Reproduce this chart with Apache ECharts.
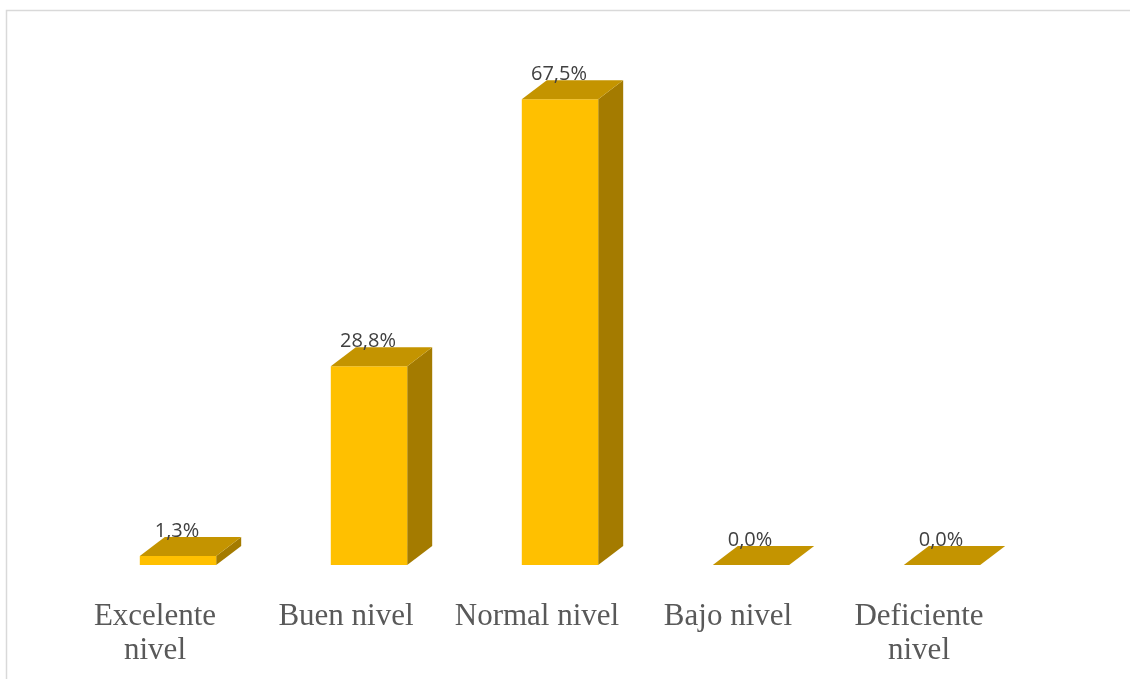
<!DOCTYPE html>
<html>
<head>
<meta charset="utf-8">
<script src="https://cdn.jsdelivr.net/npm/echarts@6/dist/echarts.min.js"></script>
<style>
  html, body { margin: 0; padding: 0; background: #ffffff; }
  #chart { width: 1130px; height: 679px; }
</style>
</head>
<body>
<div id="chart"></div>
<script>
// Nivel alcanzado (porcentaje de participantes)
const categories = ['Excelente\nnivel', 'Buen nivel', 'Normal nivel', 'Bajo nivel', 'Deficiente\nnivel'];
const percentages = [1.3, 28.8, 67.5, 0.0, 0.0];

// 3D box look
const FRONT = '#FFC000';
const TOP = '#C49400';
const SIDE = '#A47B00';
const DEPTH_X = 25;   // horizontal depth of the box
const DEPTH_Y = 19;   // vertical depth of the box
const SHIFT_X = 23;   // boxes sit to the right of the category label centre

function fmt(v) {
  return v.toFixed(1).replace('.', ',') + '%';
}

function renderBox(params, api) {
  const idx = api.value(0);
  const val = api.value(1);
  const base = api.coord([idx, 0]);
  const top = api.coord([idx, val]);
  const w = api.size([1, 0])[0] * 0.4;
  const x0 = base[0] + SHIFT_X - w / 2;
  const x1 = x0 + w;
  const yb = base[1];
  const yt = top[1];
  const children = [];
  if (yb - yt > 0.5) {
    children.push({
      type: 'polygon',
      shape: { points: [[x1, yb], [x1 + DEPTH_X, yb - DEPTH_Y], [x1 + DEPTH_X, yt - DEPTH_Y], [x1, yt]] },
      style: { fill: SIDE }
    });
    children.push({
      type: 'rect',
      shape: { x: x0, y: yt, width: w, height: yb - yt },
      style: { fill: FRONT }
    });
  }
  children.push({
    type: 'polygon',
    shape: { points: [[x0, yt], [x1, yt], [x1 + DEPTH_X, yt - DEPTH_Y], [x0 + DEPTH_X, yt - DEPTH_Y]] },
    style: { fill: TOP }
  });
  children.push({
    type: 'text',
    style: {
      text: fmt(val),
      x: (x0 + x1) / 2 - 1,
      y: yt - DEPTH_Y + 4,
      align: 'center',
      verticalAlign: 'bottom',
      fill: '#404040',
      font: '20px "Open Sans", "Noto Sans", sans-serif'
    }
  });
  return { type: 'group', children: children };
}

const chart = echarts.init(document.getElementById('chart'), null, { renderer: 'canvas' });
chart.setOption({
  animation: false,
  backgroundColor: '#ffffff',
  graphic: [{
    type: 'rect',
    shape: { x: 6.5, y: 10.5, width: 1140, height: 700 },
    style: { fill: 'none', stroke: '#d9d9d9', lineWidth: 1.5 },
    silent: true
  }],
  grid: { left: 59.5, right: 115.5, top: 13, bottom: 114, containLabel: false },
  xAxis: {
    type: 'category',
    data: categories,
    axisLine: { show: false },
    axisTick: { show: false },
    axisLabel: {
      interval: 0,
      margin: 35,
      color: '#595959',
      fontFamily: '"Liberation Serif", "DejaVu Serif", serif',
      fontSize: 31,
      lineHeight: 34
    }
  },
  yAxis: {
    type: 'value',
    min: 0,
    max: 80,
    show: false,
    splitLine: { show: false }
  },
  series: [{
    type: 'custom',
    renderItem: renderBox,
    data: percentages.map((v, i) => [i, v]),
    clip: false
  }]
});
</script>
</body>
</html>
